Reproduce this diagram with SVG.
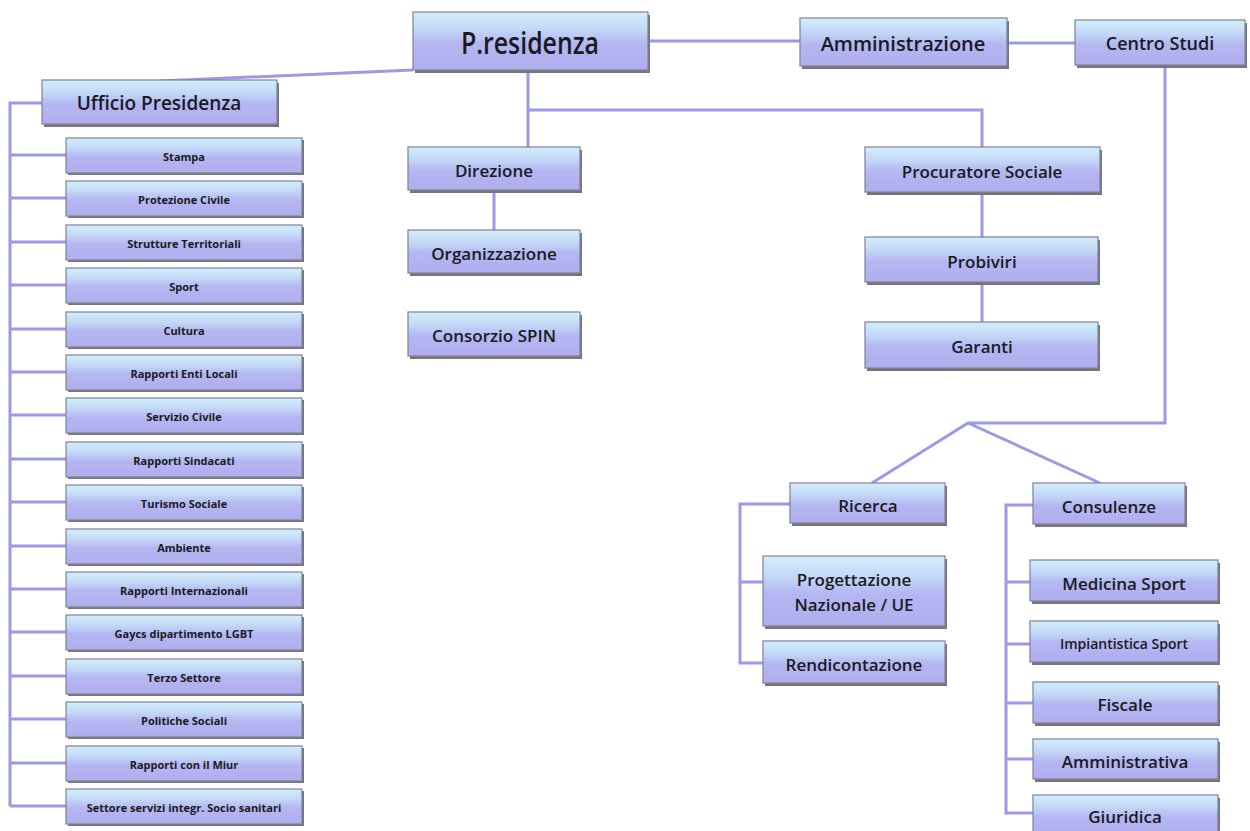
<svg xmlns="http://www.w3.org/2000/svg" width="1250" height="831" viewBox="0 0 1250 831">
<defs>
<linearGradient id="g" x1="0" y1="0" x2="0" y2="1">
<stop offset="0" stop-color="#d4eefa"/>
<stop offset="0.3" stop-color="#c2d8f6"/>
<stop offset="0.55" stop-color="#b4b6f2"/>
<stop offset="1" stop-color="#b0aeee"/>
</linearGradient>
</defs>
<style>
.b{fill:url(#g);stroke:#80809c;stroke-width:1.2}
.s{fill:#767676}
.c{fill:none;stroke:#9a9ae6;stroke-width:3}
text{font-family:"Open Sans","Noto Sans","DejaVu Sans",sans-serif;font-weight:600;fill:#1a1a22;text-anchor:middle;dominant-baseline:central}
.t{font-size:11px;font-weight:700}
.m{font-size:17px}
</style>
<rect width="1250" height="831" fill="#ffffff"/>
<g id="connectors">
<path class="c" d="M413,70 L160,81"/>
<path class="c" d="M648,41 L800,41"/>
<path class="c" d="M1007,43 L1075,43"/>
<path class="c" d="M42,103 L10,103 L10,806"/>
<path class="c" d="M10,155 H66 M10,198 H66 M10,242 H66 M10,285 H66 M10,329 H66 M10,372 H66 M10,415 H66 M10,459 H66 M10,502 H66 M10,546 H66 M10,589 H66 M10,632 H66 M10,676 H66 M10,719 H66 M10,763 H66 M10,806 H66"/>
<path class="c" d="M528,70 V147"/>
<path class="c" d="M528,110 H982 V147"/>
<path class="c" d="M494,190 V230"/>
<path class="c" d="M982,192 V237 M982,282 V322"/>
<path class="c" d="M1165,65 V423 H968 L872,483 M968,423 L1100,483"/>
<path class="c" d="M790,504 H740 V663 H763 M740,582 H763"/>
<path class="c" d="M1033,505 H1006 V813 H1033 M1006,582 H1030 M1006,644 H1030 M1006,703 H1033 M1006,759 H1033"/>
</g>
<g id="presidenza"><rect class="s" x="415" y="15" width="235" height="58"/><rect class="b" x="413" y="12" width="235" height="58"/><text x="530" y="42" font-size="31" font-weight="500" textLength="138" lengthAdjust="spacingAndGlyphs">P.residenza</text></g>
<g id="amministrazione"><rect class="s" x="802" y="21" width="207" height="48"/><rect class="b" x="800" y="18" width="207" height="48"/><text x="903" y="43" font-size="20">Amministrazione</text></g>
<g id="centro-studi"><rect class="s" x="1077" y="23" width="170" height="45"/><rect class="b" x="1075" y="20" width="170" height="45"/><text x="1160" y="43" font-size="18">Centro Studi</text></g>
<g id="ufficio-presidenza"><rect class="s" x="44" y="83" width="235" height="44"/><rect class="b" x="42" y="80" width="235" height="44"/><text x="159" y="103" font-size="19">Ufficio Presidenza</text></g>
<g id="stampa"><rect class="s" x="68" y="140" width="236" height="35"/><rect class="b" x="66" y="138" width="236" height="35"/><text class="t" x="184" y="156">Stampa</text></g>
<g id="protezione-civile"><rect class="s" x="68" y="183" width="236" height="35"/><rect class="b" x="66" y="181" width="236" height="35"/><text class="t" x="184" y="199">Protezione Civile</text></g>
<g id="strutture-territoriali"><rect class="s" x="68" y="227" width="236" height="35"/><rect class="b" x="66" y="225" width="236" height="35"/><text class="t" x="184" y="243">Strutture Territoriali</text></g>
<g id="sport"><rect class="s" x="68" y="270" width="236" height="35"/><rect class="b" x="66" y="268" width="236" height="35"/><text class="t" x="184" y="286">Sport</text></g>
<g id="cultura"><rect class="s" x="68" y="314" width="236" height="35"/><rect class="b" x="66" y="312" width="236" height="35"/><text class="t" x="184" y="330">Cultura</text></g>
<g id="rapporti-enti-locali"><rect class="s" x="68" y="357" width="236" height="35"/><rect class="b" x="66" y="355" width="236" height="35"/><text class="t" x="184" y="373">Rapporti Enti Locali</text></g>
<g id="servizio-civile"><rect class="s" x="68" y="400" width="236" height="35"/><rect class="b" x="66" y="398" width="236" height="35"/><text class="t" x="184" y="416">Servizio Civile</text></g>
<g id="rapporti-sindacati"><rect class="s" x="68" y="444" width="236" height="35"/><rect class="b" x="66" y="442" width="236" height="35"/><text class="t" x="184" y="460">Rapporti Sindacati</text></g>
<g id="turismo-sociale"><rect class="s" x="68" y="487" width="236" height="35"/><rect class="b" x="66" y="485" width="236" height="35"/><text class="t" x="184" y="503">Turismo Sociale</text></g>
<g id="ambiente"><rect class="s" x="68" y="531" width="236" height="35"/><rect class="b" x="66" y="529" width="236" height="35"/><text class="t" x="184" y="547">Ambiente</text></g>
<g id="rapporti-internazionali"><rect class="s" x="68" y="574" width="236" height="35"/><rect class="b" x="66" y="572" width="236" height="35"/><text class="t" x="184" y="590">Rapporti Internazionali</text></g>
<g id="gaycs"><rect class="s" x="68" y="617" width="236" height="35"/><rect class="b" x="66" y="615" width="236" height="35"/><text class="t" x="184" y="633">Gaycs dipartimento LGBT</text></g>
<g id="terzo-settore"><rect class="s" x="68" y="661" width="236" height="35"/><rect class="b" x="66" y="659" width="236" height="35"/><text class="t" x="184" y="677">Terzo Settore</text></g>
<g id="politiche-sociali"><rect class="s" x="68" y="704" width="236" height="35"/><rect class="b" x="66" y="702" width="236" height="35"/><text class="t" x="184" y="720">Politiche Sociali</text></g>
<g id="rapporti-miur"><rect class="s" x="68" y="748" width="236" height="35"/><rect class="b" x="66" y="746" width="236" height="35"/><text class="t" x="184" y="764">Rapporti con il Miur</text></g>
<g id="settore-servizi"><rect class="s" x="68" y="791" width="236" height="35"/><rect class="b" x="66" y="789" width="236" height="35"/><text class="t" x="184" y="807" font-size="10">Settore servizi integr. Socio sanitari</text></g>
<g id="direzione"><rect class="s" x="410" y="150" width="172" height="43"/><rect class="b" x="408" y="147" width="172" height="43"/><text class="m" x="494" y="170">Direzione</text></g>
<g id="organizzazione"><rect class="s" x="410" y="233" width="172" height="43"/><rect class="b" x="408" y="230" width="172" height="43"/><text class="m" x="494" y="253">Organizzazione</text></g>
<g id="consorzio-spin"><rect class="s" x="410" y="315" width="172" height="44"/><rect class="b" x="408" y="312" width="172" height="44"/><text class="m" x="494" y="335">Consorzio SPIN</text></g>
<g id="procuratore-sociale"><rect class="s" x="867" y="150" width="235" height="45"/><rect class="b" x="865" y="147" width="235" height="45"/><text class="m" x="982" y="171">Procuratore Sociale</text></g>
<g id="probiviri"><rect class="s" x="867" y="240" width="233" height="45"/><rect class="b" x="865" y="237" width="233" height="45"/><text class="m" x="982" y="261">Probiviri</text></g>
<g id="garanti"><rect class="s" x="867" y="325" width="233" height="46"/><rect class="b" x="865" y="322" width="233" height="46"/><text class="m" x="982" y="346">Garanti</text></g>
<g id="ricerca"><rect class="s" x="792" y="486" width="155" height="40"/><rect class="b" x="790" y="483" width="155" height="40"/><text class="m" x="868" y="505">Ricerca</text></g>
<g id="consulenze"><rect class="s" x="1035" y="486" width="152" height="41"/><rect class="b" x="1033" y="483" width="152" height="41"/><text class="m" x="1109" y="506">Consulenze</text></g>
<g id="progettazione"><rect class="s" x="765" y="559" width="182" height="70"/><rect class="b" x="763" y="556" width="182" height="70"/><text class="m" x="854" y="579">Progettazione</text><text class="m" x="854" y="604">Nazionale / UE</text></g>
<g id="rendicontazione"><rect class="s" x="765" y="644" width="182" height="42"/><rect class="b" x="763" y="641" width="182" height="42"/><text class="m" x="854" y="664">Rendicontazione</text></g>
<g id="medicina-sport"><rect class="s" x="1032" y="563" width="188" height="41"/><rect class="b" x="1030" y="560" width="188" height="41"/><text class="m" x="1124" y="583">Medicina Sport</text></g>
<g id="impiantistica-sport"><rect class="s" x="1032" y="624" width="188" height="41"/><rect class="b" x="1030" y="621" width="188" height="41"/><text x="1124" y="643" font-size="14">Impiantistica Sport</text></g>
<g id="fiscale"><rect class="s" x="1035" y="685" width="185" height="41"/><rect class="b" x="1033" y="682" width="185" height="41"/><text class="m" x="1125" y="704">Fiscale</text></g>
<g id="amministrativa"><rect class="s" x="1035" y="742" width="185" height="40"/><rect class="b" x="1033" y="739" width="185" height="40"/><text class="m" x="1125" y="761">Amministrativa</text></g>
<g id="giuridica"><rect class="s" x="1035" y="798" width="185" height="40"/><rect class="b" x="1033" y="795" width="185" height="40"/><text class="m" x="1125" y="816">Giuridica</text></g>
</svg>
